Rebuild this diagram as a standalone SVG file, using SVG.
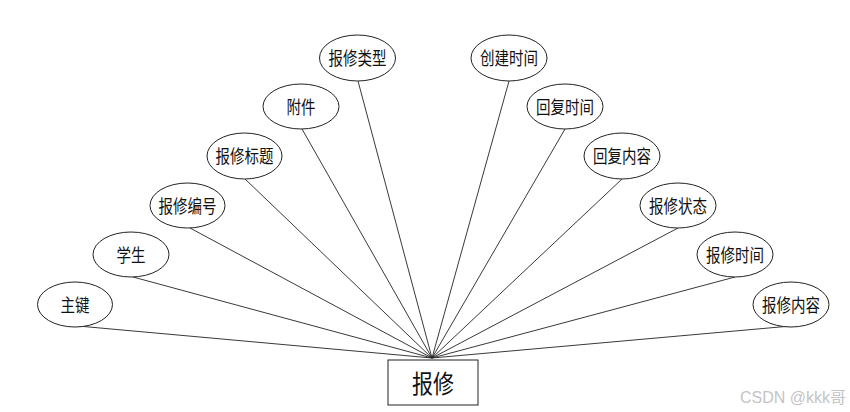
<svg xmlns="http://www.w3.org/2000/svg" width="850" height="412" viewBox="0 0 850 412">
<style>
.attr ellipse{fill:#fff;stroke:#222;stroke-width:1}
.attr text{font-family:"Liberation Sans","Noto Sans CJK SC",sans-serif;font-size:18px;fill:#111;text-anchor:middle;dominant-baseline:central}
.conn line{stroke:#222;stroke-width:0.9}
</style>
<rect width="850" height="412" fill="#fff"/>
<g id="connectors" class="conn">
<line x1="78" y1="326" x2="432" y2="358"/>
<line x1="133" y1="277" x2="432" y2="358"/>
<line x1="190" y1="228" x2="432" y2="358"/>
<line x1="245" y1="179" x2="432" y2="358"/>
<line x1="302" y1="129" x2="432" y2="358"/>
<line x1="358" y1="81" x2="432" y2="358"/>
<line x1="509" y1="81" x2="432" y2="358"/>
<line x1="565" y1="129" x2="432" y2="358"/>
<line x1="622" y1="179" x2="432" y2="358"/>
<line x1="678" y1="228" x2="432" y2="358"/>
<line x1="735" y1="277" x2="432" y2="358"/>
<line x1="791" y1="326" x2="432" y2="358"/>
</g>
<g id="entity">
<rect x="388" y="360" width="90" height="45" fill="#fff" stroke="#222" stroke-width="1"/>
<text x="433" y="384" font-family="'Liberation Sans','Noto Sans CJK SC',sans-serif" font-size="25" text-anchor="middle" dominant-baseline="central" fill="#111" textLength="42" lengthAdjust="spacingAndGlyphs">报修</text>
</g>
<g id="a-zhujian" class="attr"><ellipse cx="75" cy="304.5" rx="37.5" ry="22.5"/><text x="75" y="305.5" textLength="29" lengthAdjust="spacingAndGlyphs">主键</text></g>
<g id="a-xuesheng" class="attr"><ellipse cx="131" cy="254.5" rx="38" ry="22.5"/><text x="131" y="255.5" textLength="29" lengthAdjust="spacingAndGlyphs">学生</text></g>
<g id="a-bianhao" class="attr"><ellipse cx="187.5" cy="205.5" rx="37.5" ry="22.5"/><text x="187.5" y="206.5" textLength="58" lengthAdjust="spacingAndGlyphs">报修编号</text></g>
<g id="a-biaoti" class="attr"><ellipse cx="244.5" cy="156" rx="37.5" ry="23"/><text x="244.5" y="157" textLength="58" lengthAdjust="spacingAndGlyphs">报修标题</text></g>
<g id="a-fujian" class="attr"><ellipse cx="301" cy="106.5" rx="38" ry="22.5"/><text x="301" y="107.5" textLength="29" lengthAdjust="spacingAndGlyphs">附件</text></g>
<g id="a-leixing" class="attr"><ellipse cx="357.5" cy="58" rx="38" ry="23"/><text x="357.5" y="59" textLength="58" lengthAdjust="spacingAndGlyphs">报修类型</text></g>
<g id="a-chuangjian" class="attr"><ellipse cx="509" cy="58" rx="38" ry="23"/><text x="509" y="59" textLength="58" lengthAdjust="spacingAndGlyphs">创建时间</text></g>
<g id="a-huifushijian" class="attr"><ellipse cx="565" cy="106.5" rx="38" ry="22.5"/><text x="565" y="107.5" textLength="58" lengthAdjust="spacingAndGlyphs">回复时间</text></g>
<g id="a-huifuneirong" class="attr"><ellipse cx="622" cy="156" rx="38" ry="23"/><text x="622" y="157" textLength="58" lengthAdjust="spacingAndGlyphs">回复内容</text></g>
<g id="a-zhuangtai" class="attr"><ellipse cx="678" cy="205.5" rx="38" ry="22.5"/><text x="678" y="206.5" textLength="58" lengthAdjust="spacingAndGlyphs">报修状态</text></g>
<g id="a-shijian" class="attr"><ellipse cx="735" cy="254.5" rx="38" ry="22.5"/><text x="735" y="255.5" textLength="58" lengthAdjust="spacingAndGlyphs">报修时间</text></g>
<g id="a-neirong" class="attr"><ellipse cx="791" cy="304.5" rx="38" ry="22.5"/><text x="791" y="305.5" textLength="58" lengthAdjust="spacingAndGlyphs">报修内容</text></g>
<text x="846" y="403" font-family="'Liberation Sans','Noto Sans CJK SC',sans-serif" font-size="16" text-anchor="end" fill="#c4c4c4">CSDN @kkk哥</text>
</svg>
